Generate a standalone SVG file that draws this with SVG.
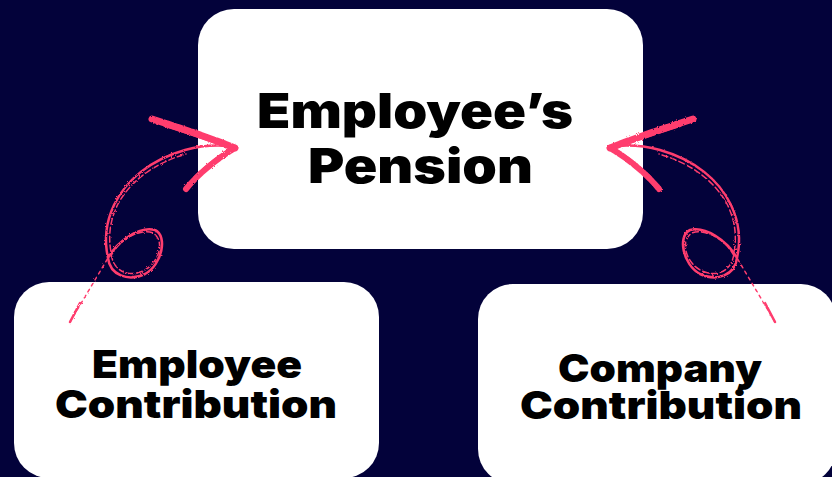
<svg xmlns="http://www.w3.org/2000/svg" width="832" height="477" viewBox="0 0 832 477">
  <style>
    .box { fill: #ffffff; }
    .lbl { font-family: Inter, "Liberation Sans", "DejaVu Sans", sans-serif; font-weight: 900; fill: #000000; text-anchor: middle; }
    .big { font-size: 48px; }
    .mid { font-size: 39px; }
    .ink { fill: none; stroke: #ff3d6e; stroke-linecap: round; stroke-linejoin: round; }
  </style>
  <defs>
    <filter id="rough" x="-10%" y="-10%" width="120%" height="120%">
      <feTurbulence type="fractalNoise" baseFrequency="0.9" numOctaves="2" seed="3" result="n"/>
      <feDisplacementMap in="SourceGraphic" in2="n" scale="2.5"/>
    </filter>
    <g id="scribble">
      <path class="ink" d="M70,322 L108,258" stroke-width="1.5" stroke-dasharray="3 4"/>
      <path class="ink" d="M70,322 L80,303" stroke-width="2.5"/>
      <path class="ink" d="M108,258 C118,240 140,226 155,230 C168,236 162,265 145,274 C128,282 110,275 108,258 C104,240 106,222 114,205 C126,180 150,160 185,150 C200,146 215,145 228,146" stroke-width="2.5"/>
      <path class="ink" d="M111,256 C120,238 142,228 153,233 C165,240 160,263 143,271 C127,278 112,270 111,252 C108,236 110,220 118,204 C130,182 152,164 186,154" stroke-width="1.5" stroke-dasharray="6 3"/>
      <path class="ink" d="M152,119 C180,128 210,138 235,148" stroke-width="7" stroke-dasharray="14 2 9 1"/>
      <path class="ink" d="M186,189 C200,172 218,158 235,148" stroke-width="6" stroke-dasharray="12 2 8 1"/>
      <path class="ink" d="M165,125 C190,133 212,140 232,148" stroke-width="4"/>
      <path class="ink" d="M195,178 C208,165 220,156 232,149" stroke-width="4"/>
    </g>
  </defs>
  <rect x="0" y="0" width="832" height="477" fill="#03023a"/>

  <g id="node-pension">
    <rect class="box" x="198" y="9" width="445" height="240" rx="36"/>
    <text class="lbl big" x="415" y="128" textLength="316" lengthAdjust="spacingAndGlyphs">Employee’s</text>
    <text class="lbl big" x="420.5" y="183" textLength="225" lengthAdjust="spacingAndGlyphs">Pension</text>
  </g>

  <g id="node-employee-contribution">
    <rect class="box" x="14" y="282" width="365" height="196" rx="35"/>
    <text class="lbl mid" x="197" y="378" textLength="210" lengthAdjust="spacingAndGlyphs">Employee</text>
    <text class="lbl mid" x="196" y="418" textLength="282" lengthAdjust="spacingAndGlyphs">Contribution</text>
  </g>

  <g id="node-company-contribution">
    <rect class="box" x="478" y="284" width="358" height="200" rx="35"/>
    <text class="lbl mid" x="660" y="382" textLength="204" lengthAdjust="spacingAndGlyphs">Company</text>
    <text class="lbl mid" x="661" y="419" textLength="282" lengthAdjust="spacingAndGlyphs">Contribution</text>
  </g>

  <g id="connectors" filter="url(#rough)">
    <use href="#scribble"/>
    <use href="#scribble" transform="translate(845,0) scale(-1,1)"/>
  </g>
</svg>
